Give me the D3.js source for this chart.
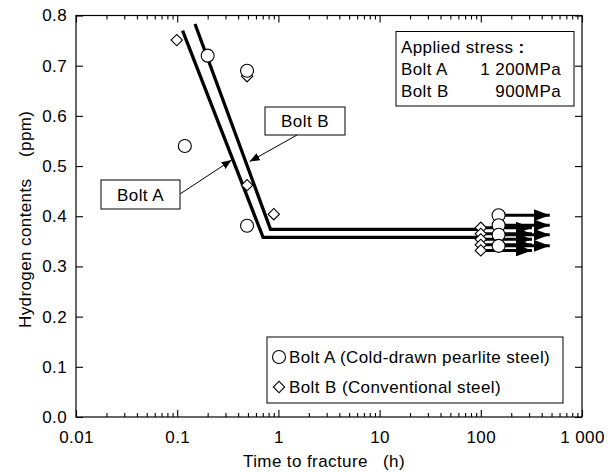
<!DOCTYPE html>
<html>
<head>
<meta charset="utf-8">
<script src="https://cdn.jsdelivr.net/npm/d3@7"></script>
<style>
  body { margin: 0; background: #fff; }
  text { font-family: "Liberation Sans", Arial, sans-serif; font-size: 17px; letter-spacing: 0.4px; fill: #000; }
</style>
</head>
<body>
<script>
// data
const boltA_time = [0.119, 0.2, 0.49, 0.49];
const boltA_h2 = [0.540, 0.720, 0.690, 0.381];
const boltB_time = [0.099, 0.49, 0.49, 0.90];
const boltB_h2 = [0.751, 0.679, 0.462, 0.404];

// run-outs (no fracture), arrows to the right
const runA_time = 150, runA_end = 480;
const runA_h2 = [0.402, 0.382, 0.363, 0.341];
const runB_time = 100, runB_end = 320;
const runB_h2 = [0.377, 0.365, 0.354, 0.343, 0.332];

// trend lines
const lineA = [[0.113, 0.770], [0.706, 0.358], [100, 0.358]];
const lineB = [[0.150, 0.783], [0.836, 0.374], [100, 0.374]];

const xTicks = [0.01, 0.1, 1, 10, 100, 1000];
const xTickLabels = ["0.01", "0.1", "1", "10", "100", "1 000"];
const yTicks = [0, 0.1, 0.2, 0.3, 0.4, 0.5, 0.6, 0.7, 0.8];

const svg = d3.select("body").append("svg")
    .attr("width", 610)
    .attr("height", 472);

const pLeft = 76, pRight = 582, pTop = 15.5, pBottom = 417;
const x = d3.scaleLog().domain([0.01, 1000]).range([pLeft, pRight]);
const y = d3.scaleLinear().domain([0, 0.8]).range([pBottom, pTop]);

let minor = [];
xTicks.slice(0, -1).forEach(d => { for (let k = 2; k <= 9; k++) minor.push(d * k); });

// axes, ticks pointing inward
svg.append("g").attr("transform", `translate(0,${pBottom})`)
    .call(d3.axisBottom(x).tickValues(xTicks).tickSize(-7).tickPadding(14)
        .tickFormat((d, i) => xTickLabels[i]));
svg.append("g").attr("transform", `translate(0,${pBottom})`)
    .call(d3.axisBottom(x).tickValues(minor).tickSize(-4).tickFormat(""));
svg.append("g").attr("transform", `translate(0,${pTop})`)
    .call(d3.axisTop(x).tickValues(xTicks).tickSize(-7).tickFormat(""));
svg.append("g").attr("transform", `translate(0,${pTop})`)
    .call(d3.axisTop(x).tickValues(minor).tickSize(-4).tickFormat(""));
svg.append("g").attr("transform", `translate(${pLeft},0)`)
    .call(d3.axisLeft(y).tickValues(yTicks).tickSize(-7).tickPadding(9).tickFormat(d3.format(".1f")));
svg.append("g").attr("transform", `translate(${pRight},0)`)
    .call(d3.axisRight(y).tickValues(yTicks).tickSize(-7).tickFormat(""));

svg.selectAll(".domain").remove();
svg.selectAll(".tick line").attr("stroke", "#000").attr("stroke-width", 1.1);
svg.selectAll(".tick text").style("font-size", "17px").style("font-family", "Liberation Sans, Arial, sans-serif");

svg.append("rect")
    .attr("x", pLeft).attr("y", pTop)
    .attr("width", pRight - pLeft).attr("height", pBottom - pTop)
    .attr("fill", "none").attr("stroke", "#000").attr("stroke-width", 1.2);

// axis titles
svg.append("text").attr("x", 243).attr("y", 467).text("Time to fracture");
svg.append("text").attr("x", 383).attr("y", 467).text("(h)");
svg.append("text").attr("transform", "translate(31,328)rotate(-90)").text("Hydrogen contents");
svg.append("text").attr("transform", "translate(31,157)rotate(-90)").text("(ppm)");

// trend lines
const line = d3.line().x(d => x(d[0])).y(d => y(d[1]));
[lineA, lineB].forEach(l => {
    svg.append("path").attr("d", line(l))
        .attr("fill", "none").attr("stroke", "#000").attr("stroke-width", 3.3)
        .attr("stroke-linejoin", "miter");
});

// run-out arrows
const defs = svg.append("defs");
defs.append("marker").attr("id", "bighead")
    .attr("viewBox", "0 0 16 12").attr("refX", 16).attr("refY", 6)
    .attr("markerWidth", 16).attr("markerHeight", 12)
    .attr("markerUnits", "userSpaceOnUse").attr("orient", "auto")
    .append("path").attr("d", "M0,0 L16,6 L0,12 Z").attr("fill", "#000");
defs.append("marker").attr("id", "smallhead")
    .attr("viewBox", "0 0 10 8").attr("refX", 10).attr("refY", 4)
    .attr("markerWidth", 10).attr("markerHeight", 8)
    .attr("markerUnits", "userSpaceOnUse").attr("orient", "auto")
    .append("path").attr("d", "M0,0 L10,4 L0,8 Z").attr("fill", "#000");

runB_h2.forEach(v => {
    svg.append("line")
        .attr("x1", x(runB_time)).attr("x2", x(runB_end))
        .attr("y1", y(v)).attr("y2", y(v))
        .attr("stroke", "#000").attr("stroke-width", 3)
        .attr("marker-end", "url(#bighead)");
});
runA_h2.forEach(v => {
    svg.append("line")
        .attr("x1", x(runA_time)).attr("x2", x(runA_end))
        .attr("y1", y(v)).attr("y2", y(v))
        .attr("stroke", "#000").attr("stroke-width", 3)
        .attr("marker-end", "url(#bighead)");
});

// markers
const diamond = d3.symbol().type(d3.symbolSquare).size(64);
function drawDiamonds(xs, ys) {
    xs.forEach((t, i) => {
        svg.append("path").attr("d", diamond())
            .attr("transform", `translate(${x(t)},${y(ys[i])})rotate(45)`)
            .attr("fill", "#fff").attr("stroke", "#000").attr("stroke-width", 1.1);
    });
}
function drawCircles(xs, ys) {
    xs.forEach((t, i) => {
        svg.append("circle").attr("cx", x(t)).attr("cy", y(ys[i])).attr("r", 6.5)
            .attr("fill", "#fff").attr("stroke", "#000").attr("stroke-width", 1.1);
    });
}
drawDiamonds(boltB_time, boltB_h2);
drawDiamonds(runB_h2.map(() => runB_time), runB_h2);
drawCircles(boltA_time, boltA_h2);
drawCircles(runA_h2.map(() => runA_time), runA_h2);

// callouts
function callout(bx, by, bw, bh, label, fx, fy, tx, ty) {
    svg.append("rect").attr("x", bx).attr("y", by).attr("width", bw).attr("height", bh)
        .attr("fill", "#fff").attr("stroke", "#000").attr("stroke-width", 1);
    svg.append("text").attr("x", bx + bw / 2).attr("y", by + bh - 8)
        .attr("text-anchor", "middle").text(label);
    svg.append("line").attr("x1", fx).attr("y1", fy).attr("x2", tx).attr("y2", ty)
        .attr("stroke", "#000").attr("stroke-width", 1)
        .attr("marker-end", "url(#smallhead)");
}
callout(101, 180, 79, 29, "Bolt A", 180, 194, x(0.345), y(0.512));
callout(265, 107, 80, 28, "Bolt B", 297, 135, x(0.52), y(0.509));

// applied stress box
svg.append("rect").attr("x", 396).attr("y", 31.5).attr("width", 178).attr("height", 74.5)
    .attr("fill", "#fff").attr("stroke", "#000").attr("stroke-width", 1);
const st = svg.append("text").attr("x", 401).attr("y", 53);
st.append("tspan").text("Applied stress ");
st.append("tspan").style("font-weight", "bold").text(":");
svg.append("text").attr("x", 401).attr("y", 75).text("Bolt A");
svg.append("text").attr("x", 561).attr("y", 75).attr("text-anchor", "end").text("1 200MPa");
svg.append("text").attr("x", 401).attr("y", 97).text("Bolt B");
svg.append("text").attr("x", 561).attr("y", 97).attr("text-anchor", "end").text("900MPa");

// legend
const lg = svg.append("g");
lg.append("rect").attr("x", 267).attr("y", 337).attr("width", 296).attr("height", 66)
    .attr("fill", "#fff").attr("stroke", "#000").attr("stroke-width", 1);
lg.append("circle").attr("cx", 279).attr("cy", 357).attr("r", 6.5)
    .attr("fill", "#fff").attr("stroke", "#000").attr("stroke-width", 1.1);
lg.append("path").attr("d", diamond()).attr("transform", "translate(279,387)rotate(45)")
    .attr("fill", "#fff").attr("stroke", "#000").attr("stroke-width", 1.1);
lg.append("text").attr("x", 289).attr("y", 363).text("Bolt A (Cold-drawn pearlite steel)");
lg.append("text").attr("x", 289).attr("y", 393).text("Bolt B (Conventional steel)");
</script>
</body>
</html>
